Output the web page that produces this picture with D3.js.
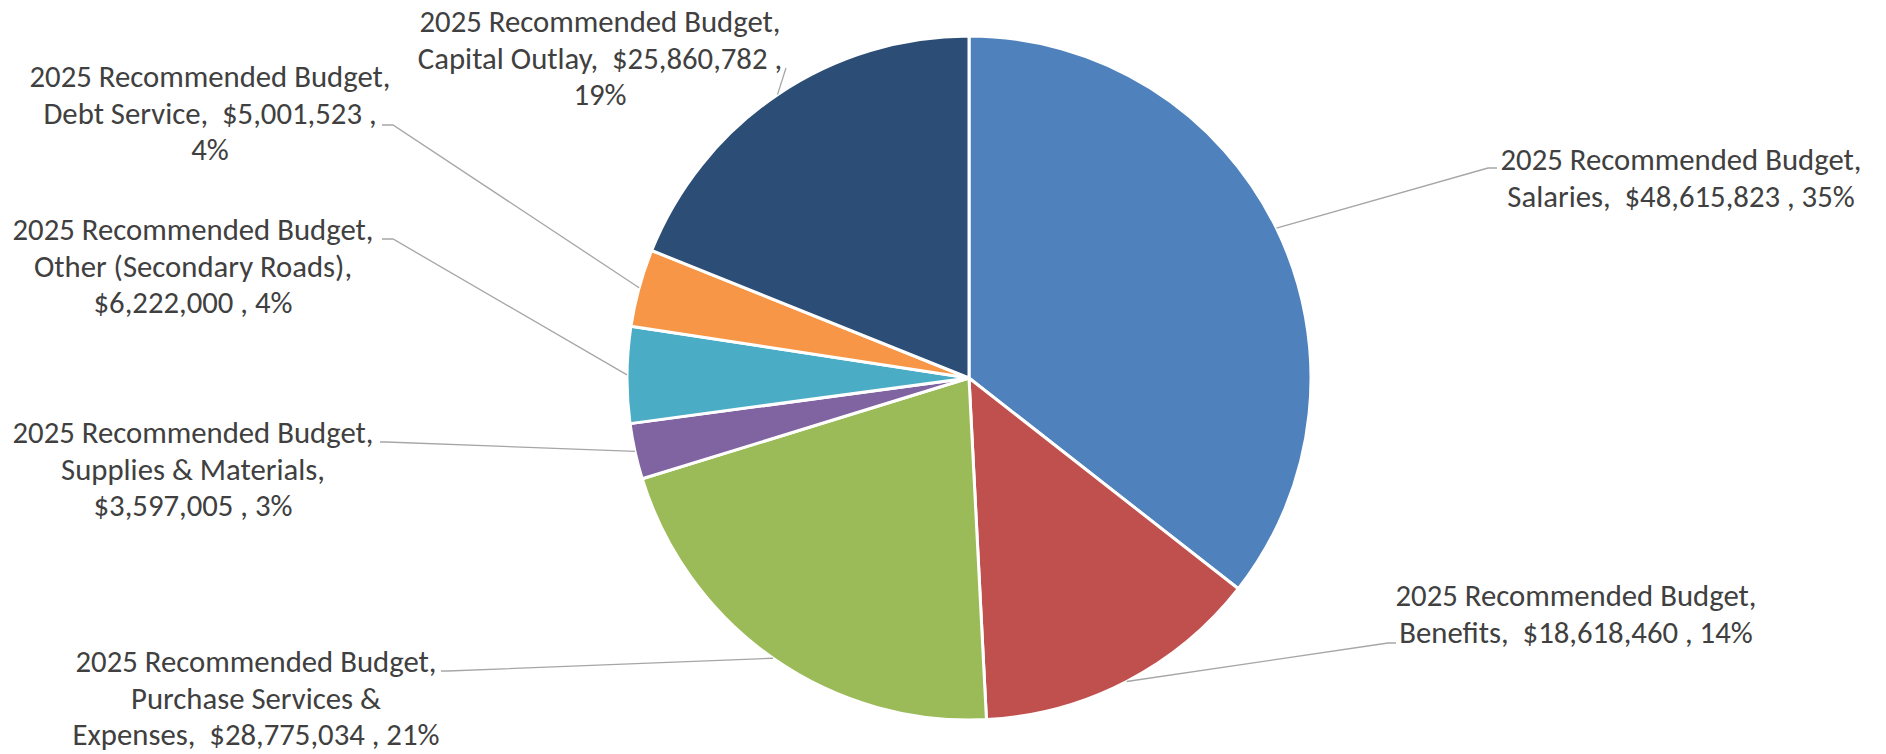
<!DOCTYPE html>
<html>
<head>
<meta charset="utf-8">
<script src="https://cdn.jsdelivr.net/npm/d3@7"></script>
<style>
  html, body { margin: 0; padding: 0; background: #ffffff; }
  svg { display: block; }
  .lbl text { font-family: Carlito, "Liberation Sans Narrow", "Open Sans", "Noto Sans", sans-serif; font-size: 30.5px; fill: #404040; white-space: pre; }
</style>
</head>
<body>
<svg id="chart" width="1886" height="754"></svg>
<script>
// Series and category data
const seriesName = "2025 Recommended Budget";
const categories = [
  "Salaries",
  "Benefits",
  "Purchase Services & Expenses",
  "Supplies & Materials",
  "Other (Secondary Roads)",
  "Debt Service",
  "Capital Outlay"
];
const values = [48615823, 18618460, 28775034, 3597005, 6222000, 5001523, 25860782];
const percentLabels = ["35%", "14%", "21%", "3%", "4%", "4%", "19%"];

// Slice colours
const colors = ["#4F81BD", "#C0504D", "#9BBB59", "#8064A2", "#4BACC6", "#F79646", "#2C4D75"];

// Label placement: text centre, first baseline, words kept on the second line,
// and the leader-line elbow / end points.
const labelLayout = [
  { cx: 1681, y: 170, split: 5, elbow: [1488, 168], end: [1497, 168] },
  { cx: 1576, y: 606, split: 5, elbow: [1388, 643], end: [1396, 643] },
  { cx: 256,  y: 672, split: 3, elbow: [448, 671],  end: [441, 671] },
  { cx: 193,  y: 443, split: 3, elbow: [386, 442],  end: [380, 442] },
  { cx: 193,  y: 240, split: 3, elbow: [393, 239],  end: [382, 239] },
  { cx: 210,  y: 87,  split: 5, elbow: [393, 125],  end: [382, 125] },
  { cx: 600,  y: 32,  split: 5, elbow: [786, 68],   end: [786, 68] }
];

const width = 1886, height = 754;
const cx = 969, cy = 378, radius = 342;
const lineHeight = 36.7;
const targetLineWidth = 361; // width of the first label line

const svg = d3.select("#chart");
const data = categories.map((c, i) => ({ category: c, value: values[i], pct: percentLabels[i], i }));

const pie = d3.pie().value(d => d.value).sort(null).startAngle(0).endAngle(2 * Math.PI);
const arcs = pie(data);
const arc = d3.arc().innerRadius(0).outerRadius(radius);
const edge = d3.arc().innerRadius(radius).outerRadius(radius);

const g = svg.append("g").attr("transform", `translate(${cx},${cy})`);

g.selectAll("path.slice")
  .data(arcs)
  .join("path")
  .attr("class", "slice")
  .attr("d", arc)
  .attr("fill", d => colors[d.index])
  .attr("stroke", "#ffffff")
  .attr("stroke-width", 3)
  .attr("stroke-linejoin", "round");

// Leader lines from the rim at each slice's mid-angle to its label
svg.append("g").selectAll("polyline")
  .data(arcs)
  .join("polyline")
  .attr("points", d => {
    const p = edge.centroid(d);
    const L = labelLayout[d.index];
    return [[p[0] + cx, p[1] + cy], L.elbow, L.end].map(q => q.join(",")).join(" ");
  })
  .attr("fill", "none")
  .attr("stroke", "#A6A6A6")
  .attr("stroke-width", 1.3);

const fmt = d3.format("$,");

function labelLines(d) {
  const rest = `${d.category},  ${fmt(d.value)} , ${d.pct}`;
  const words = rest.split(" ");
  const L = labelLayout[d.i];
  const lines = [seriesName + ","];
  lines.push(words.slice(0, L.split).join(" ").trim());
  const tail = words.slice(L.split).join(" ").trim();
  if (tail) lines.push(tail);
  return lines;
}

const labels = svg.append("g").attr("class", "lbl").selectAll("g")
  .data(data)
  .join("g");

labels.each(function(d) {
  const L = labelLayout[d.i];
  const grp = d3.select(this);
  const inner = grp.append("g");
  const t = inner.append("text").attr("text-anchor", "middle");
  labelLines(d).forEach((ln, k) => {
    t.append("tspan").attr("x", 0).attr("y", L.y + k * lineHeight).text(ln);
  });
  // Condense horizontally so the first line spans the Calibri width
  const first = t.select("tspan").node().getComputedTextLength();
  const s = targetLineWidth / first;
  inner.attr("transform", `translate(${L.cx},0) scale(${s},1)`);
});
</script>
</body>
</html>
